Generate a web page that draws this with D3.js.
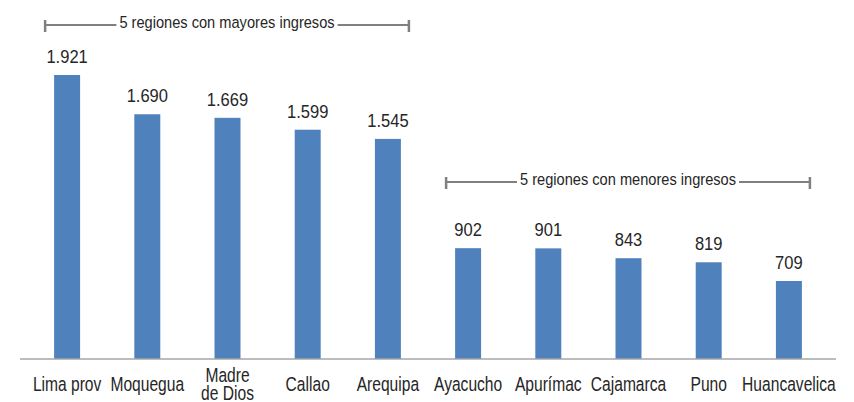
<!DOCTYPE html>
<html>
<head>
<meta charset="utf-8">
<script src="https://cdn.jsdelivr.net/npm/d3@7"></script>
<style>
  body { margin: 0; background: #fff; }
  svg { display: block; font-family: "Liberation Sans", Arial, sans-serif; }
</style>
</head>
<body>
<svg id="chart" width="854" height="402"></svg>
<script>
const regions = ["Lima prov", "Moquegua", "Madre de Dios", "Callao", "Arequipa",
                 "Ayacucho", "Apurímac", "Cajamarca", "Puno", "Huancavelica"];
const ingresos = [1921, 1690, 1669, 1599, 1545, 902, 901, 843, 819, 709];
const labelLines = [["Lima prov"], ["Moquegua"], ["Madre", "de Dios"], ["Callao"], ["Arequipa"],
                    ["Ayacucho"], ["Apurímac"], ["Cajamarca"], ["Puno"], ["Huancavelica"]];
const groups = [
    { text: "5 regiones con mayores ingresos", from: "Lima prov", to: "Arequipa", y: 25 },
    { text: "5 regiones con menores ingresos", from: "Ayacucho", to: "Huancavelica", y: 182 }
];

const BAR = "#4f81bd";
const TEXT = "#262626";
const fmt = v => d3.format(",")(v).replace(",", ".");

const svg = d3.select("#chart");
const baseY = 359;

const x = d3.scaleBand()
    .domain(regions)
    .range([27, 829])
    .paddingInner(0.676)
    .paddingOuter(0.338);

const y = d3.scaleLinear()
    .domain([250, 1921])
    .range([baseY, 75]);

// narrow text helper: squeeze a regular sans to look like a condensed face
function narrowText(sel, px, py, size, sx) {
    return sel.append("text")
        .attr("transform", `translate(${px},${py}) scale(${sx},1)`)
        .attr("text-anchor", "middle")
        .attr("font-size", size + "px")
        .attr("fill", TEXT);
}

// bars
svg.append("g")
    .selectAll("rect")
    .data(ingresos)
    .enter().append("rect")
    .attr("x", (d, i) => x(regions[i]))
    .attr("y", d => y(d))
    .attr("width", x.bandwidth())
    .attr("height", d => baseY - y(d))
    .attr("fill", BAR);

// value labels
const vals = svg.append("g");
ingresos.forEach((d, i) => {
    narrowText(vals, x(regions[i]) + x.bandwidth() / 2, y(d) - 12, 19, 0.87).text(fmt(d));
});

// axis line
svg.append("line")
    .attr("x1", 20).attr("x2", 836)
    .attr("y1", baseY).attr("y2", baseY)
    .attr("stroke", "#a6a6a6")
    .attr("stroke-width", 1.5);

// category labels
const axis = svg.append("g")
    .attr("transform", `translate(0,${baseY})`)
    .call(d3.axisBottom(x).tickSize(0).tickFormat(""));
axis.select(".domain").remove();
axis.selectAll(".tick text").remove();
axis.selectAll(".tick").each(function(d, i) {
    const lines = labelLines[i];
    const y0 = lines.length > 1 ? 23 : 32;
    lines.forEach((s, k) => {
        narrowText(d3.select(this), 0, y0 + k * 18, 19.5, 0.8).text(s);
    });
});

// group brackets
groups.forEach(g => {
    const x1 = x(g.from) - 9;
    const x2 = x(g.to) + x.bandwidth() + 8;
    const mid = (x1 + x2) / 2;
    const sx = 0.86;
    const gg = svg.append("g");
    const label = narrowText(gg, mid, g.y + 3, 17, sx).text(g.text);
    const w = label.node().getComputedTextLength() * sx;
    const gap = 3;
    [[x1, mid - w / 2 - gap], [mid + w / 2 + gap, x2]].forEach(([a, b]) => {
        gg.append("line")
            .attr("x1", a).attr("x2", b)
            .attr("y1", g.y).attr("y2", g.y)
            .attr("stroke", "#808080").attr("stroke-width", 2);
    });
    [x1, x2].forEach(px => {
        gg.append("line")
            .attr("x1", px).attr("x2", px)
            .attr("y1", g.y - 5).attr("y2", g.y + 7)
            .attr("stroke", "#808080").attr("stroke-width", 2.5);
    });
});
</script>
</body>
</html>
